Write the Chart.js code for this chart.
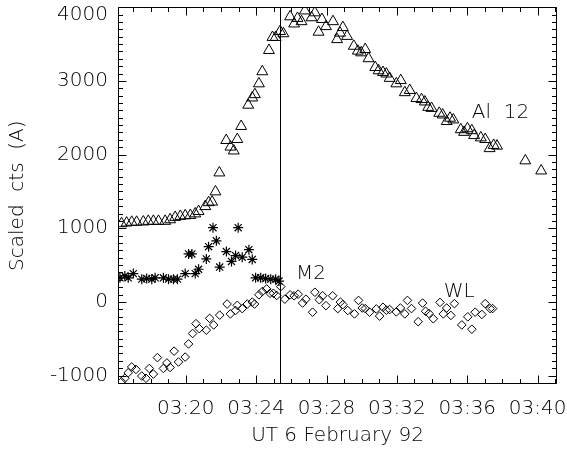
<!DOCTYPE html>
<html>
<head>
<meta charset="utf-8">
<script src="https://cdn.jsdelivr.net/npm/chart.js@4/dist/chart.umd.min.js"></script>
<style>
  html, body { margin: 0; padding: 0; background: #fff; }
  #plot { display: block; }
</style>
</head>
<body>
<canvas id="plot" width="567" height="450"></canvas>
<script>
// ---------- data (minutes after 03:00 UT, scaled counts) ----------
const tickMinutes = [20, 24, 28, 32, 36, 40];
const countTicks = [-1000, 0, 1000, 2000, 3000, 4000];

const al12Times = [16.35,16.64,16.93,17.21,17.59,17.87,18.16,18.45,18.83,19.11,19.40,19.69,19.97,20.26,20.54,20.73,21.11,21.30,21.50,21.69,
  21.91,22.30,22.54,22.73,22.93,23.15,23.55,23.78,23.93,24.16,24.35,24.73,24.93,25.11,25.36,25.55,25.93,26.16,26.35,26.58,
  26.77,27.15,27.34,27.55,27.74,27.97,28.37,28.60,28.77,28.93,29.17,29.55,29.78,29.97,30.20,30.39,30.77,30.96,31.21,31.40,
  31.59,31.97,32.22,32.45,32.73,33.11,33.40,33.59,33.78,33.97,34.41,34.60,34.83,35.02,35.21,35.63,35.82,36.01,36.26,36.39,
  36.77,37.02,37.27,37.50,37.69,39.30,40.20];
const al12Counts = [1064,1073,1083,1083,1087,1096,1096,1096,1096,1117,1149,1163,1171,1176,1197,1229,1296,1349,1357,1496,
  1753,2193,2104,2051,2207,2384,2673,2771,2816,2963,3127,3416,3593,3593,3673,3643,3873,3776,3851,3807,
  3953,3860,3927,3664,3837,3740,3807,3563,3651,3727,3607,3473,3407,3384,3429,3304,3184,3140,3117,3096,
  3037,2963,3007,2843,2873,2763,2749,2717,2643,2629,2563,2540,2451,2496,2473,2340,2304,2353,2327,2260,
  2229,2207,2083,2127,2117,1917,1780];

const m2Times = [16.26,16.54,16.73,17.02,17.50,17.78,18.07,18.26,18.73,19.02,19.30,19.53,19.97,20.16,20.35,20.54,20.73,21.17,
  21.30,21.55,21.74,21.93,22.31,22.60,22.83,22.98,23.21,23.59,23.78,23.97,24.26,24.54,24.83,25.11,25.30];
const m2Counts = [327,353,327,384,309,317,309,327,327,309,309,309,384,651,651,384,443,584,
  749,1007,829,473,683,549,629,1007,607,709,576,327,327,317,309,309,283];

const wlTimes = [16.35,16.54,16.73,16.93,17.17,17.50,17.74,17.93,18.16,18.39,18.73,18.93,19.11,19.34,19.59,19.97,20.16,20.39,20.58,20.77,
  21.17,21.36,21.59,21.93,22.35,22.54,22.83,22.93,23.21,23.50,23.78,23.91,24.16,24.35,24.60,24.79,24.98,25.17,25.40,25.63,
  25.93,26.16,26.39,26.64,26.83,27.21,27.34,27.59,27.78,27.97,28.35,28.64,28.79,28.93,29.21,29.59,29.82,30.03,30.20,30.45,
  30.83,31.02,31.21,31.40,31.59,31.97,32.20,32.45,32.60,32.83,33.21,33.46,33.63,33.82,34.07,34.45,34.64,34.83,35.07,35.27,
  35.69,36.03,36.26,36.45,36.83,37.02,37.30,37.44];
const wlCounts = [-1083,-1037,-963,-883,-917,-1007,-1037,-904,-980,-757,-904,-829,-891,-669,-816,-749,-571,-429,-296,-363,
  -384,-224,-313,-180,-29,-163,-117,-47,-91,-29,-3,-29,96,140,176,117,117,87,207,37,
  96,83,104,-16,37,-140,131,29,83,-51,83,-91,-3,-37,-117,-163,20,-83,-91,-140,
  -96,-193,-73,-113,-104,-136,-83,-163,20,-91,-269,-16,-127,-157,-229,-7,-163,-83,-184,-24,
  -313,-203,-371,-140,-171,-24,-91,-91];

const flareTime = 25.37;

// ---------- layout / style ----------
const FONT = 'DejaVu Sans';
const WEIGHT = '200';
const INK = '#000';
const notes = [
  { text: 'Al  12', t: 36.26, v: 2500 },
  { text: 'M2', t: 26.26, v: 313 },
  { text: 'WL', t: 34.66, v: 73 }
];

const pts = (ts, vs) => ts.map((t, i) => ({ x: t, y: vs[i] }));

// IDL style box: ticks pointing inward on all four sides
const framePlugin = {
  id: 'frame',
  afterDatasetsDraw(chart) {
    const { ctx, chartArea: a, scales: { x, y } } = chart;
    const L = Math.round(a.left) + 0.5, R = Math.round(a.right) - 0.5;
    const T = Math.round(a.top) + 0.5, B = Math.round(a.bottom) - 0.5;
    ctx.save();
    ctx.strokeStyle = '#000';
    ctx.lineWidth = 1;
    ctx.beginPath();
    ctx.rect(L, T, R - L, B - T);

    for (let m = Math.ceil(x.min); m <= x.max; m++) {
      const px = Math.round(x.getPixelForValue(m)) + 0.5;
      const len = m % 4 === 0 ? 8 : 4.5;
      ctx.moveTo(px, B); ctx.lineTo(px, B - len);
      ctx.moveTo(px, T); ctx.lineTo(px, T + len);
    }
    for (let v = Math.ceil(y.min / 100) * 100; v <= y.max; v += 100) {
      const py = Math.round(y.getPixelForValue(v)) + 0.5;
      const len = v % 1000 === 0 ? 8 : 4.5;
      ctx.moveTo(L, py); ctx.lineTo(L + len, py);
      ctx.moveTo(R, py); ctx.lineTo(R - len, py);
    }
    // flare marker
    const fx = Math.round(x.getPixelForValue(flareTime)) + 0.5;
    ctx.moveTo(fx, T); ctx.lineTo(fx, B);
    ctx.stroke();

    ctx.fillStyle = INK;
    ctx.font = WEIGHT + ' 20px "' + FONT + '"';
    ctx.textAlign = 'left';
    ctx.textBaseline = 'alphabetic';
    notes.forEach(n => ctx.fillText(n.text, x.getPixelForValue(n.t), y.getPixelForValue(n.v)));
    ctx.restore();
  }
};

Chart.defaults.font.family = FONT;
Chart.defaults.font.weight = WEIGHT;
Chart.defaults.color = INK;

new Chart(document.getElementById('plot'), {
  type: 'scatter',
  data: {
    datasets: [
      { label: 'Al 12', data: pts(al12Times, al12Counts), pointStyle: 'triangle', pointRadius: 6.3,
        borderColor: '#000', backgroundColor: 'rgba(0,0,0,0)', borderWidth: 1 },
      { label: 'M2', data: pts(m2Times, m2Counts), pointStyle: 'star', pointRadius: 5,
        borderColor: '#000', backgroundColor: 'rgba(0,0,0,0)', borderWidth: 1.2 },
      { label: 'WL', data: pts(wlTimes, wlCounts), pointStyle: 'rectRot', pointRadius: 4.3,
        borderColor: '#000', backgroundColor: 'rgba(0,0,0,0)', borderWidth: 1 }
    ]
  },
  options: {
    responsive: false,
    animation: false,
    events: [],
    layout: { padding: { top: 1, right: 10, left: 0, bottom: 0 } },
    plugins: { legend: { display: false }, tooltip: { enabled: false } },
    scales: {
      x: {
        type: 'linear', min: 16.15, max: 41.1,
        grid: { display: false, drawTicks: false },
        border: { display: false },
        ticks: { font: { size: 20 }, padding: 13, maxRotation: 0, autoSkip: false,
                 callback: v => '03:' + v },
        afterBuildTicks: s => { s.ticks = tickMinutes.map(v => ({ value: v })); },
        afterFit: s => { s.height = 66; s.paddingLeft = 0; s.paddingRight = 0; },
        title: { display: true, text: 'UT 6 February 92', font: { size: 20 }, padding: { top: 0, bottom: 2 } }
      },
      y: {
        min: -1115, max: 4000,
        grid: { display: false, drawTicks: false },
        border: { display: false },
        ticks: {
          padding: 10,
          font: c => ({ size: 20, lineHeight: c.tick && c.tick.value === 4000 ? 0.7 : 1.2 }),
          callback: v => v === 4000 ? ['', String(v)] : String(v)
        },
        afterBuildTicks: s => { s.ticks = countTicks.map(v => ({ value: v })); },
        afterFit: s => { s.width = 118; s.paddingTop = 0; s.paddingBottom = 0; },
        title: { display: true, text: 'Scaled  cts  (A)', font: { size: 20 }, padding: { top: 6, bottom: 0 } }
      }
    }
  },
  plugins: [framePlugin]
});
</script>
</body>
</html>
